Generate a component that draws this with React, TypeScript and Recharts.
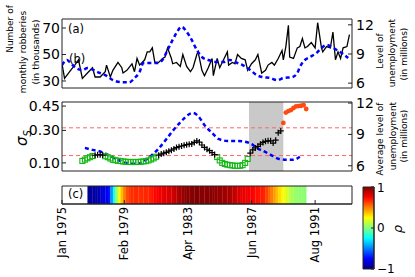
import React from 'react';
import { ComposedChart, Line, Scatter, XAxis, YAxis, ReferenceArea, ReferenceLine } from 'recharts';

const FONT = '"DejaVu Sans", sans-serif';
const AXIS = '#222';

// month index, 0 = Jan 1975
const MONTH_MAX = 228;
const TICK_MONTHS = [0, 49, 99, 149, 199];
const TICK_LABELS = ['Jan 1975', 'Feb 1979', 'Apr 1983', 'Jun 1987', 'Aug 1991'];

// (a) monthly robberies, thousands
const ROB_MONTHS = [0, 2, 6, 10, 13, 16, 20, 24, 26, 30, 34, 35, 38, 40, 44, 47, 48, 51, 55, 57, 59, 61, 65, 67, 69, 71, 73, 76, 79, 81, 83, 86, 87, 90, 93, 95, 98, 101, 103, 106, 107, 110, 112, 115, 118, 119, 122, 124, 127, 130, 131, 134, 136, 138, 141, 144, 146, 149, 152, 154, 157, 160, 162, 165, 167, 170, 173, 174, 176, 178, 179, 182, 185, 187, 189, 191, 193, 196, 199, 201, 204, 205, 208, 211, 213, 215, 217, 219, 221, 224, 226];
const ROB_VALUES = [43, 32, 37, 42, 46, 32, 36, 40, 33, 33, 37, 42, 33, 38, 44, 40, 36, 38, 43, 37, 47, 42, 46, 52, 52, 55, 44, 44, 47, 48, 55, 47, 43, 44, 41, 50, 41, 37, 40, 50, 52, 38, 34, 40, 47, 34, 47, 40, 46, 52, 42, 44, 43, 50, 47, 46, 38, 43, 46, 50, 36, 38, 42, 44, 42, 47, 53, 46, 56, 72, 48, 47, 55, 56, 62, 55, 56, 59, 55, 74, 55, 52, 56, 55, 67, 46, 52, 47, 55, 56, 65];

// (a) level of unemployment, millions
const UNEMP_MONTHS = [0, 4, 6, 10, 16, 20, 28, 34, 40, 47, 53, 57, 61, 64, 69, 75, 79, 83, 87, 90, 94, 98, 102, 106, 110, 115, 122, 127, 132, 138, 142, 148, 153, 158, 164, 169, 174, 181, 185, 187, 191, 195, 200, 204, 208, 212, 216, 220, 225];
const UNEMP_VALUES = [7.86, 8.38, 8.17, 7.66, 7.35, 7.55, 7.14, 6.83, 6.31, 6.1, 6.1, 6.52, 7.14, 8.07, 8.07, 8.07, 8.38, 9.41, 10.45, 11.17, 11.8, 11.28, 10.45, 9.41, 8.69, 8.38, 8.17, 8.17, 8.38, 8.07, 7.86, 7.35, 6.83, 6.62, 6.52, 6.31, 6.52, 6.62, 7.04, 7.66, 8.38, 8.69, 9.1, 9.62, 9.93, 9.72, 9.41, 9.1, 8.59];

// (b) average level of unemployment, millions
const AVG_MONTHS = [18, 24, 31, 36, 42, 48, 53, 60, 65, 71, 75, 81, 87, 94, 99, 103, 107, 112, 118, 123, 130, 138, 144, 150, 153, 158, 164, 170, 177, 182, 187];
const AVG_VALUES = [7.71, 7.52, 7.33, 7.05, 6.67, 6.38, 6.19, 6.19, 6.48, 7.05, 7.52, 8.38, 9.33, 10.29, 10.86, 11.05, 10.76, 9.9, 9.14, 8.57, 8.38, 8.38, 8.29, 8.0, 7.71, 7.43, 7.05, 6.67, 6.57, 6.57, 6.86];

// (b) sigma_S, one value every 2 months from month 16
const SIGMA_START = 16;
const SIGMA_VALUES = [0.112, 0.12, 0.128, 0.135, 0.142, 0.147, 0.15, 0.15, 0.148, 0.141, 0.135, 0.127, 0.119, 0.116, 0.113, 0.111, 0.109, 0.107, 0.106, 0.105, 0.106, 0.105, 0.106, 0.107, 0.109, 0.111, 0.115, 0.121, 0.128, 0.138, 0.147, 0.154, 0.16, 0.165, 0.172, 0.178, 0.186, 0.194, 0.2, 0.204, 0.208, 0.212, 0.215, 0.217, 0.226, 0.235, 0.228, 0.21, 0.195, 0.184, 0.175, 0.163, 0.151, 0.136, 0.115, 0.1, 0.093, 0.089, 0.086, 0.084, 0.082, 0.082, 0.082, 0.086, 0.1, 0.124, 0.16, 0.18, 0.192, 0.202, 0.215, 0.226, 0.233, 0.236, 0.236, 0.222, 0.24, 0.285, 0.297, 0.346, 0.41, 0.419, 0.425, 0.438, 0.448, 0.45, 0.452, 0.456, 0.432];
const SIGMA_LOW = 0.145;
const SIGMA_HIGH = 0.316;
const SHADE = [147, 174];

// (c) correlation rho, one value every 2 months from month 20
const RHO_START = 20;
const RHO_VALUES = [-0.95, -0.95, -0.93, -0.92, -0.9, -0.85, -0.8, -0.78, -0.72, -0.45, -0.2, 0.05, 0.22, 0.38, 0.5, 0.6, 0.64, 0.66, 0.67, 0.67, 0.66, 0.67, 0.68, 0.67, 0.69, 0.71, 0.74, 0.76, 0.78, 0.79, 0.8, 0.81, 0.82, 0.84, 0.87, 0.9, 0.92, 0.95, 0.97, 0.98, 0.98, 0.99, 1.0, 1.0, 0.99, 0.98, 0.98, 0.99, 0.98, 0.97, 0.97, 0.96, 0.95, 0.94, 0.93, 0.92, 0.9, 0.88, 0.85, 0.82, 0.8, 0.79, 0.78, 0.77, 0.76, 0.74, 0.72, 0.71, 0.7, 0.68, 0.62, 0.56, 0.5, 0.44, 0.38, 0.32, 0.27, 0.22, 0.17, 0.12, 0.08, 0.05, 0.04, 0.03, 0.03, 0.02];
// colour bar levels (jet breakpoints)
const CB_STOPS = [1, 0.75, 0.25, -0.25, -0.75, -1];
const CB_TICKS = [-1, 0, 1];

const jet = (v: number) => {
  const t = (v + 1) / 2;
  const c = (k: number) => Math.round(255 * Math.max(0, Math.min(1, 1.5 - Math.abs(4 * t - k))));
  return `rgb(${c(3)},${c(2)},${c(1)})`;
};

const robData = ROB_MONTHS.map((m, i) => ({ m, r: ROB_VALUES[i] }));
const unempData = UNEMP_MONTHS.map((m, i) => ({ m, u: UNEMP_VALUES[i] }));
const avgData = AVG_MONTHS.map((m, i) => ({ m, u: AVG_VALUES[i] }));
const sigmaPts = SIGMA_VALUES.map((s, i) => ({ m: SIGMA_START + 2 * i, s }));
const lowPts = sigmaPts.filter(p => p.s < SIGMA_LOW);
const highPts = sigmaPts.filter(p => p.s > SIGMA_HIGH);
const midPts = sigmaPts.filter(p => p.s >= SIGMA_LOW && p.s <= SIGMA_HIGH);
const cbData = CB_STOPS.map(r => ({ x: 0.5, r }));

const tickFont = { fill: '#000', fontSize: 14 };
const line = { stroke: AXIS };

const Cross = (p: any) => (
  <path d={`M${p.cx - 3},${p.cy}h6M${p.cx},${p.cy - 3}v6`} stroke="#000" strokeWidth={1.2} />
);
const Square = (p: any) => (
  <rect x={p.cx - 2.5} y={p.cy - 2.5} width={5} height={5} fill="none" stroke="#14b814" strokeWidth={1.1} />
);
const Dot = (p: any) => <circle cx={p.cx} cy={p.cy} r={2.4} fill="#ff4a10" />;

const DateTick = (props: any) => {
  const { x, y, payload } = props;
  const label = TICK_LABELS[TICK_MONTHS.indexOf(payload.value)];
  return (
    <text x={x} y={y} transform={`rotate(-90 ${x} ${y})`} textAnchor="end" dy="0.35em" fontSize={11.5} fill="#000">
      {label}
    </text>
  );
};

const Rot = ({ x, y, size = 9, children }: any) => (
  <text x={x} y={y} transform={`rotate(-90 ${x} ${y})`} textAnchor="middle" dy="0.35em" fontSize={size} fill="#000">
    {children}
  </text>
);

const box = (top: number, left = 0): React.CSSProperties => ({ position: 'absolute', left, top });

export default function App() {
  return (
    <div style={{ position: 'absolute', left: 0, top: 0, width: 415, height: 277, background: '#fff', fontFamily: FONT }}>
      <div style={box(0)}>
        <ComposedChart width={415} height={100} margin={{ top: 9, right: 33, bottom: 2, left: 32 }}>
          <XAxis type="number" dataKey="m" domain={[0, MONTH_MAX]} ticks={TICK_MONTHS} tick={false} tickSize={-4} height={10} axisLine={line} tickLine={line} allowDataOverflow />
          <XAxis xAxisId="t" orientation="top" type="number" domain={[0, MONTH_MAX]} ticks={TICK_MONTHS} tick={false} tickSize={-4} height={10} axisLine={line} tickLine={line} allowDataOverflow />
          <YAxis yAxisId="l" dataKey="r" type="number" domain={[24.7, 76.8]} ticks={[30, 50, 70]} width={30} tickSize={-4} tickMargin={6} tick={tickFont} axisLine={line} tickLine={line} allowDataOverflow />
          <YAxis yAxisId="r" orientation="right" type="number" domain={[5.5, 12.6]} ticks={[6, 9, 12]} width={30} tickSize={-4} tickMargin={8} tick={tickFont} axisLine={line} tickLine={line} allowDataOverflow />
          <Line yAxisId="l" data={robData} dataKey="r" stroke="#000" strokeWidth={1.3} dot={false} isAnimationActive={false} />
          <Line yAxisId="r" data={unempData} dataKey="u" type="monotone" stroke="#0000ff" strokeWidth={2.5} strokeDasharray="4 3" dot={false} isAnimationActive={false} />
        </ComposedChart>
      </div>

      <div style={box(90)}>
        <ComposedChart width={415} height={95} margin={{ top: 2, right: 33, bottom: 4, left: 32 }}>
          <XAxis type="number" dataKey="m" domain={[0, MONTH_MAX]} ticks={TICK_MONTHS} tick={false} tickSize={-4} height={10} axisLine={line} tickLine={line} allowDataOverflow />
          <XAxis xAxisId="t" orientation="top" type="number" domain={[0, MONTH_MAX]} ticks={TICK_MONTHS} tick={false} tickSize={-4} height={10} axisLine={line} tickLine={line} allowDataOverflow />
          <YAxis yAxisId="l" dataKey="s" type="number" domain={[0.05, 0.475]} ticks={[0.1, 0.3, 0.45]} tickFormatter={(v: number) => v.toFixed(2)} width={30} tickSize={-4} tickMargin={6} tick={tickFont} axisLine={line} tickLine={line} allowDataOverflow />
          <YAxis yAxisId="r" orientation="right" type="number" domain={[5.5, 12.1]} ticks={[6, 9, 12]} width={30} tickSize={-4} tickMargin={8} tick={tickFont} axisLine={line} tickLine={line} allowDataOverflow />
          <ReferenceArea yAxisId="l" x1={SHADE[0]} x2={SHADE[1]} y1={0.05} y2={0.475} fill="#c9c9c9" fillOpacity={1} stroke="none" />
          <ReferenceLine yAxisId="l" y={SIGMA_HIGH} stroke="#ff6666" strokeDasharray="4 3" />
          <ReferenceLine yAxisId="l" y={SIGMA_LOW} stroke="#ff6666" strokeDasharray="4 3" />
          <Line yAxisId="r" data={avgData} dataKey="u" type="monotone" stroke="#0000ff" strokeWidth={2.5} strokeDasharray="4 3" dot={false} isAnimationActive={false} />
          <Scatter yAxisId="l" data={lowPts} shape={Square} isAnimationActive={false} />
          <Scatter yAxisId="l" data={midPts} shape={Cross} isAnimationActive={false} />
          <Scatter yAxisId="l" data={highPts} shape={Dot} isAnimationActive={false} />
        </ComposedChart>
      </div>

      <div style={box(176)}>
        <ComposedChart width={415} height={100} margin={{ top: 10, right: 63, bottom: 12, left: 62 }}>
          <XAxis type="number" dataKey="m" domain={[0, MONTH_MAX]} ticks={TICK_MONTHS} interval={0} height={60} tickSize={-4} tickMargin={7} tick={<DateTick />} axisLine={line} tickLine={line} allowDataOverflow />
          <YAxis hide type="number" domain={[0, 1]} allowDataOverflow />
          {RHO_VALUES.map((r, i) => (
            <ReferenceArea key={i} x1={RHO_START + 2 * i} x2={RHO_START + 2 * i + 2.2} y1={0} y2={1} fill={jet(r)} fillOpacity={1} stroke="none" />
          ))}
          <ReferenceArea x1={0} x2={MONTH_MAX} y1={0} y2={1} fill="none" stroke={AXIS} />
        </ComposedChart>
      </div>

      <div style={box(180, 330)}>
        <ComposedChart width={85} height={97} data={cbData} margin={{ top: 7, right: 26, bottom: 7, left: 33 }}>
          <defs>
            <linearGradient id="jetbar" x1="0" y1="0" x2="0" y2="1">
              {CB_STOPS.map(r => (
                <stop key={r} offset={`${((1 - r) / 2) * 100}%`} stopColor={jet(r)} />
              ))}
            </linearGradient>
          </defs>
          <XAxis dataKey="x" type="number" domain={[0, 1]} tick={false} tickLine={false} axisLine={false} height={1} allowDataOverflow />
          <YAxis dataKey="r" orientation="right" type="number" domain={[-1, 1]} ticks={CB_TICKS} tickFormatter={(v: number) => (v < 0 ? '\u2212' + Math.abs(v) : String(v))} width={15} tickSize={-3} tickMargin={6} tick={{ fill: '#000', fontSize: 12 }} axisLine={line} tickLine={line} allowDataOverflow />
          <ReferenceArea x1={0} x2={1} y1={-1} y2={1} fill="url(#jetbar)" fillOpacity={1} stroke={AXIS} />
        </ComposedChart>
      </div>

      <svg width={415} height={277} style={{ position: 'absolute', left: 0, top: 0, pointerEvents: 'none' }}>
        <Rot x={10} y={29}>Number of</Rot>
        <Rot x={23} y={52}>monthly  robberies</Rot>
        <Rot x={36} y={52}>(in thousands)</Rot>
        <Rot x={380} y={51}>Level of</Rot>
        <Rot x={392} y={53}>unemployment</Rot>
        <Rot x={404} y={54}>(in millions)</Rot>
        <Rot x={380} y={139}>Average level of</Rot>
        <Rot x={393} y={136}>unemployment</Rot>
        <Rot x={404} y={136}>(in millions)</Rot>
        <text x={22} y={138} transform="rotate(-90 22 138)" textAnchor="middle" dy="0.35em" fontSize={15} fontStyle="italic" fill="#000">
          σ<tspan fontSize={10} dy="4">S</tspan>
        </text>
        <text x={397} y={229} transform="rotate(-90 397 229)" textAnchor="middle" dy="0.35em" fontSize={13} fontStyle="italic" fill="#000">ρ</text>
        <text x={68} y={33} fontSize={11.5} fill="#000">(a)</text>
        <text x={69} y={63} fontSize={11.5} fill="#000">(b)</text>
        <text x={68} y={198} fontSize={11.5} fill="#000">(c)</text>
      </svg>
    </div>
  );
}
